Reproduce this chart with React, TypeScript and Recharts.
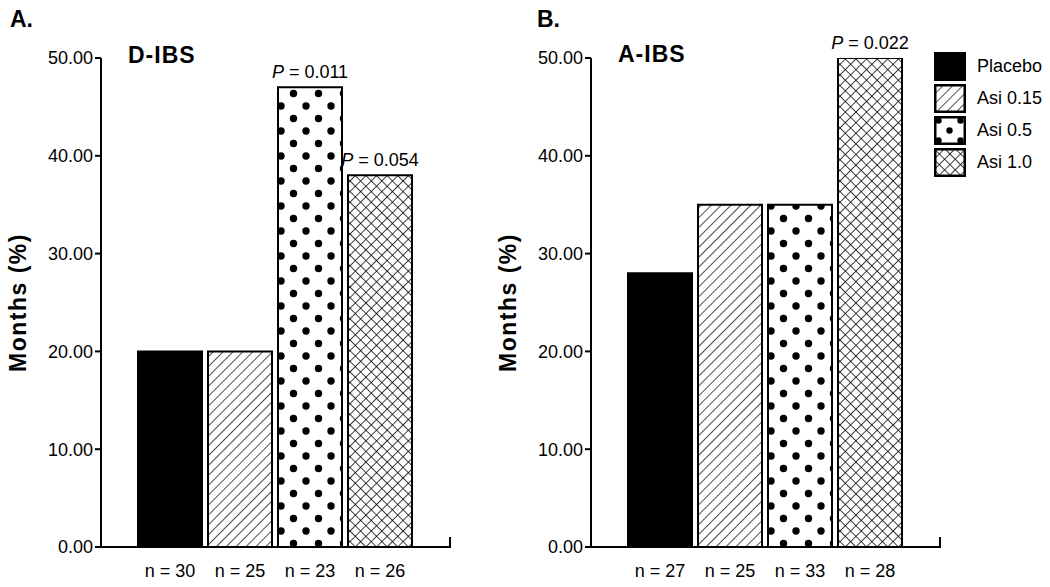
import { BarChart, Bar, XAxis, YAxis, Cell, LabelList, Label } from "recharts";

// groups shared by both panels
const groups = ["Placebo", "Asi 0.15", "Asi 0.5", "Asi 1.0"];

// panel A: D-IBS
const dIbsN = ["n = 30", "n = 25", "n = 23", "n = 26"];
const dIbsValues = [20, 20, 47, 38];
const dIbsP = ["", "", "0.011", "0.054"];

// panel B: A-IBS
const aIbsN = ["n = 27", "n = 25", "n = 33", "n = 28"];
const aIbsValues = [28, 35, 35, 50];
const aIbsP = ["", "", "", "0.022"];

const yTicks = [0, 10, 20, 30, 40, 50];

const fills = ["#000", "url(#hatch)", "url(#dots)", "url(#cross)"];
const legendFills = ["#000", "url(#hatch)", "url(#dotsLegend)", "url(#cross)"];
const FONT = "'Liberation Sans', Arial, Helvetica, sans-serif";

const buildRows = (ns: string[], values: number[], ps: string[]) =>
  ns.map((n, i) => ({ n, group: groups[i], value: values[i], p: ps[i] }));

const PLabel = (props: any) => {
  const { x, y, width, value } = props;
  if (!value) return null;
  return (
    <text x={x + width / 2} y={y - 9} textAnchor="middle" fontSize={18} fontFamily={FONT} fill="#000">
      <tspan fontStyle="italic">P</tspan>
      {" = " + value}
    </text>
  );
};

const YLabel = (props: any) => {
  const vb = props.viewBox || { x: 0, y: 58, width: 101, height: 489 };
  const cx = vb.x + 18;
  const cy = vb.y + vb.height / 2;
  return (
    <text
      x={cx}
      y={cy}
      transform={`rotate(-90 ${cx} ${cy})`}
      textAnchor="middle"
      dominantBaseline="central"
      fontWeight="bold"
      fontSize={23}
      letterSpacing={1.5}
      fontFamily={FONT}
      fill="#000"
    >
      Months (%)
    </text>
  );
};

function Panel({ rows, left }: { rows: any[]; left: number }) {
  return (
    <div style={{ position: "absolute", left, top: 0 }}>
      <BarChart width={460} height={587} data={rows} margin={{ top: 58, right: 10, bottom: 10, left: 0 }}>
        <XAxis
          dataKey="n"
          height={30}
          padding={{ left: 34, right: 35 }}
          axisLine={{ stroke: "#000", strokeWidth: 2 }}
          tickLine={false}
          tickSize={0}
          tickMargin={17}
          interval={0}
          tick={{ fill: "#000", fontSize: 18, fontFamily: FONT }}
        />
        <YAxis
          domain={[0, 50]}
          ticks={yTicks}
          interval={0}
          width={101}
          allowDataOverflow
          tickFormatter={(v: number) => v.toFixed(2)}
          axisLine={{ stroke: "#000", strokeWidth: 2 }}
          tickLine={{ stroke: "#000", strokeWidth: 2 }}
          tickSize={6}
          tickMargin={2}
          tick={{ fill: "#000", fontSize: 18, fontFamily: FONT }}
        >
          <Label content={YLabel} />
        </YAxis>
        <Bar dataKey="value" barSize={64} stroke="#000" strokeWidth={2} isAnimationActive={false}>
          {rows.map((r, i) => (
            <Cell key={r.group} fill={fills[i]} />
          ))}
          <LabelList dataKey="p" content={PLabel} />
        </Bar>
      </BarChart>
    </div>
  );
}

function Swatch({ fill }: { fill: string }) {
  return (
    <svg width={32} height={29} style={{ display: "block" }}>
      <rect x={1.25} y={1.25} width={29.5} height={26.5} fill={fill} stroke="#000" strokeWidth={2.5} />
    </svg>
  );
}

export default function App() {
  const rowsA = buildRows(dIbsN, dIbsValues, dIbsP);
  const rowsB = buildRows(aIbsN, aIbsValues, aIbsP);

  return (
    <div style={{ position: "absolute", left: 0, top: 0, width: 1050, height: 587, background: "#fff", overflow: "hidden" }}>
      {/* shared pattern fills */}
      <svg width={0} height={0} style={{ position: "absolute" }}>
        <defs>
          <pattern id="hatch" patternUnits="userSpaceOnUse" width={7} height={10} patternTransform="rotate(45)">
            <rect width={7} height={10} fill="#fff" />
            <line x1={0} y1={0} x2={0} y2={10} stroke="#000" strokeWidth={1.4} />
          </pattern>
          <pattern id="dots" patternUnits="userSpaceOnUse" width={25} height={25}>
            <rect width={25} height={25} fill="#fff" />
            <circle cx={6} cy={6} r={3.7} fill="#000" />
            <circle cx={18.5} cy={18.5} r={3.7} fill="#000" />
          </pattern>
          <pattern id="dotsLegend" patternUnits="userSpaceOnUse" width={22} height={20}>
            <rect width={22} height={20} fill="#fff" />
            <circle cx={4.5} cy={4.5} r={3.2} fill="#000" />
            <circle cx={15.5} cy={14.5} r={3.2} fill="#000" />
          </pattern>
          <pattern id="cross" patternUnits="userSpaceOnUse" width={7.5} height={7.5} patternTransform="rotate(45)">
            <rect width={7.5} height={7.5} fill="#fff" />
            <line x1={0} y1={0} x2={0} y2={7.5} stroke="#000" strokeWidth={1.5} />
            <line x1={0} y1={0} x2={7.5} y2={0} stroke="#000" strokeWidth={1.5} />
          </pattern>
        </defs>
      </svg>

      <svg width={1050} height={80} style={{ position: "absolute", left: 0, top: 0 }}>
        <text x={10} y={27} fontSize={23} fontWeight="bold" fontFamily={FONT}>A.</text>
        <text x={537} y={27} fontSize={23} fontWeight="bold" fontFamily={FONT}>B.</text>
        <text x={128} y={63} fontSize={23} fontWeight="bold" letterSpacing={1} fontFamily={FONT}>D-IBS</text>
        <text x={618} y={62} fontSize={23} fontWeight="bold" letterSpacing={1} fontFamily={FONT}>A-IBS</text>
      </svg>

      <Panel rows={rowsA} left={0} />
      <Panel rows={rowsB} left={490} />

      {/* small end ticks on the x axes */}
      <div style={{ position: "absolute", left: 449, top: 537, width: 2, height: 11, background: "#000" }} />
      <div style={{ position: "absolute", left: 939, top: 537, width: 2, height: 11, background: "#000" }} />

      <div style={{ position: "absolute", left: 934, top: 52, fontFamily: FONT, fontSize: 18 }}>
        {groups.map((g, i) => (
          <div key={g} style={{ display: "flex", alignItems: "center", height: 29, marginBottom: 3 }}>
            <Swatch fill={legendFills[i]} />
            <span style={{ marginLeft: 11 }}>{g}</span>
          </div>
        ))}
      </div>
    </div>
  );
}
